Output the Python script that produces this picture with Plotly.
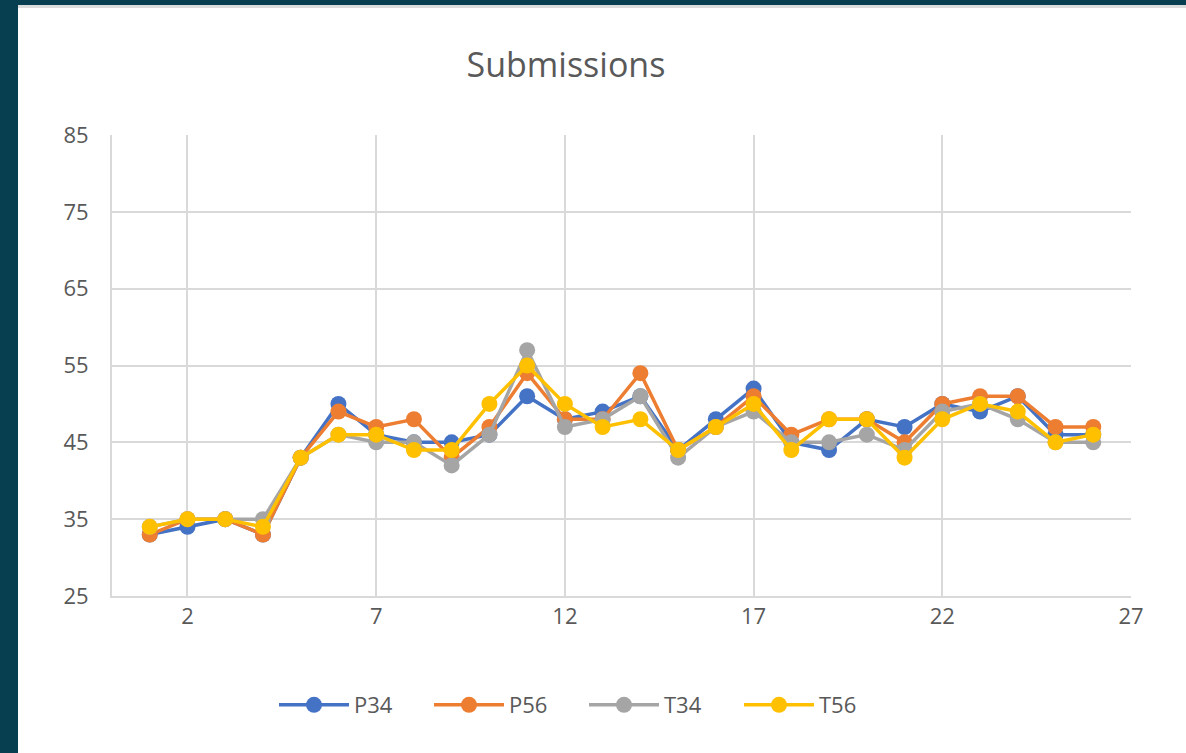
import plotly.graph_objects as go

x_vals = list(range(1, 27))
p34 = [33, 34, 35, 33, 43, 50, 46, 45, 45, 46, 51, 48, 49, 51, 44, 48, 52, 45, 44, 48, 47, 50, 49, 51, 46, 46]
p56 = [33, 35, 35, 33, 43, 49, 47, 48, 43, 47, 54, 48, 48, 54, 44, 47, 51, 46, 48, 48, 45, 50, 51, 51, 47, 47]
t34 = [34, 35, 35, 35, 43, 46, 45, 45, 42, 46, 57, 47, 48, 51, 43, 47, 49, 45, 45, 46, 44, 49, 50, 48, 45, 45]
t56 = [34, 35, 35, 34, 43, 46, 46, 44, 44, 50, 55, 50, 47, 48, 44, 47, 50, 44, 48, 48, 43, 48, 50, 49, 45, 46]

series = [("P34", p34, "#4472C4"), ("P56", p56, "#ED7D31"),
          ("T34", t34, "#A5A5A5"), ("T56", t56, "#FFC000")]

fig = go.Figure()
for name, vals, col in series:
    fig.add_trace(go.Scatter(x=x_vals, y=vals, name=name, mode="lines+markers",
                             line=dict(color=col, width=3.5),
                             marker=dict(color=col, size=16)))

font = "Segoe UI, Open Sans, sans-serif"
W, H = 1186, 753
L, R, T, B = 112, 55, 135, 157
fig.update_layout(
    width=W, height=H,
    margin=dict(l=L, r=R, t=T, b=B),
    paper_bgcolor="white", plot_bgcolor="white",
    title=dict(text="Submissions", x=566 / W, xanchor="center", xref="container",
               y=1 - 65 / H, yanchor="middle", yref="container",
               font=dict(family=font, size=34, color="#595959")),
    xaxis=dict(range=[0, 27], tick0=2, dtick=5, showgrid=True, gridcolor="#d9d9d9",
               gridwidth=1.5, showline=True, linecolor="#d9d9d9", linewidth=1.5,
               zeroline=False, ticks="", ticklen=10,
               tickfont=dict(family=font, size=22, color="#595959")),
    yaxis=dict(range=[25, 85], tick0=25, dtick=10, showgrid=True, gridcolor="#d9d9d9",
               gridwidth=1.5, showline=True, linecolor="#d9d9d9", linewidth=1.5,
               zeroline=False, ticks="", ticksuffix="   ",
               tickfont=dict(family=font, size=22, color="#595959")),
    legend=dict(orientation="h", x=584 / W, xanchor="center", xref="container",
                y=48 / H, yanchor="middle", yref="container",
                font=dict(family=font, size=22, color="#595959"),
                itemwidth=70, entrywidth=70, entrywidthmode="pixels",
                tracegroupgap=0),
    showlegend=True,
)

# dark border bands (top and left) plus thin grey edge line
pw = W - L - R
ph = H - T - B
border = "#073f50"
def px_x(p):
    return (p - L) / pw
def px_y(p):
    return (H - B - p) / ph

fig.add_shape(type="rect", xref="paper", yref="paper",
              x0=px_x(0), x1=px_x(18), y0=px_y(H), y1=px_y(0),
              fillcolor=border, line=dict(width=0), layer="above")
fig.add_shape(type="rect", xref="paper", yref="paper",
              x0=px_x(0), x1=px_x(W), y0=px_y(5), y1=px_y(0),
              fillcolor=border, line=dict(width=0), layer="above")
fig.add_shape(type="rect", xref="paper", yref="paper",
              x0=px_x(18), x1=px_x(W), y0=px_y(8), y1=px_y(5),
              fillcolor="#dcdcdc", line=dict(width=0), layer="above")

fig.write_html("out.html", config={"displayModeBar": False},
               post_script="document.body.style.margin='0';document.body.style.overflow='hidden';")
